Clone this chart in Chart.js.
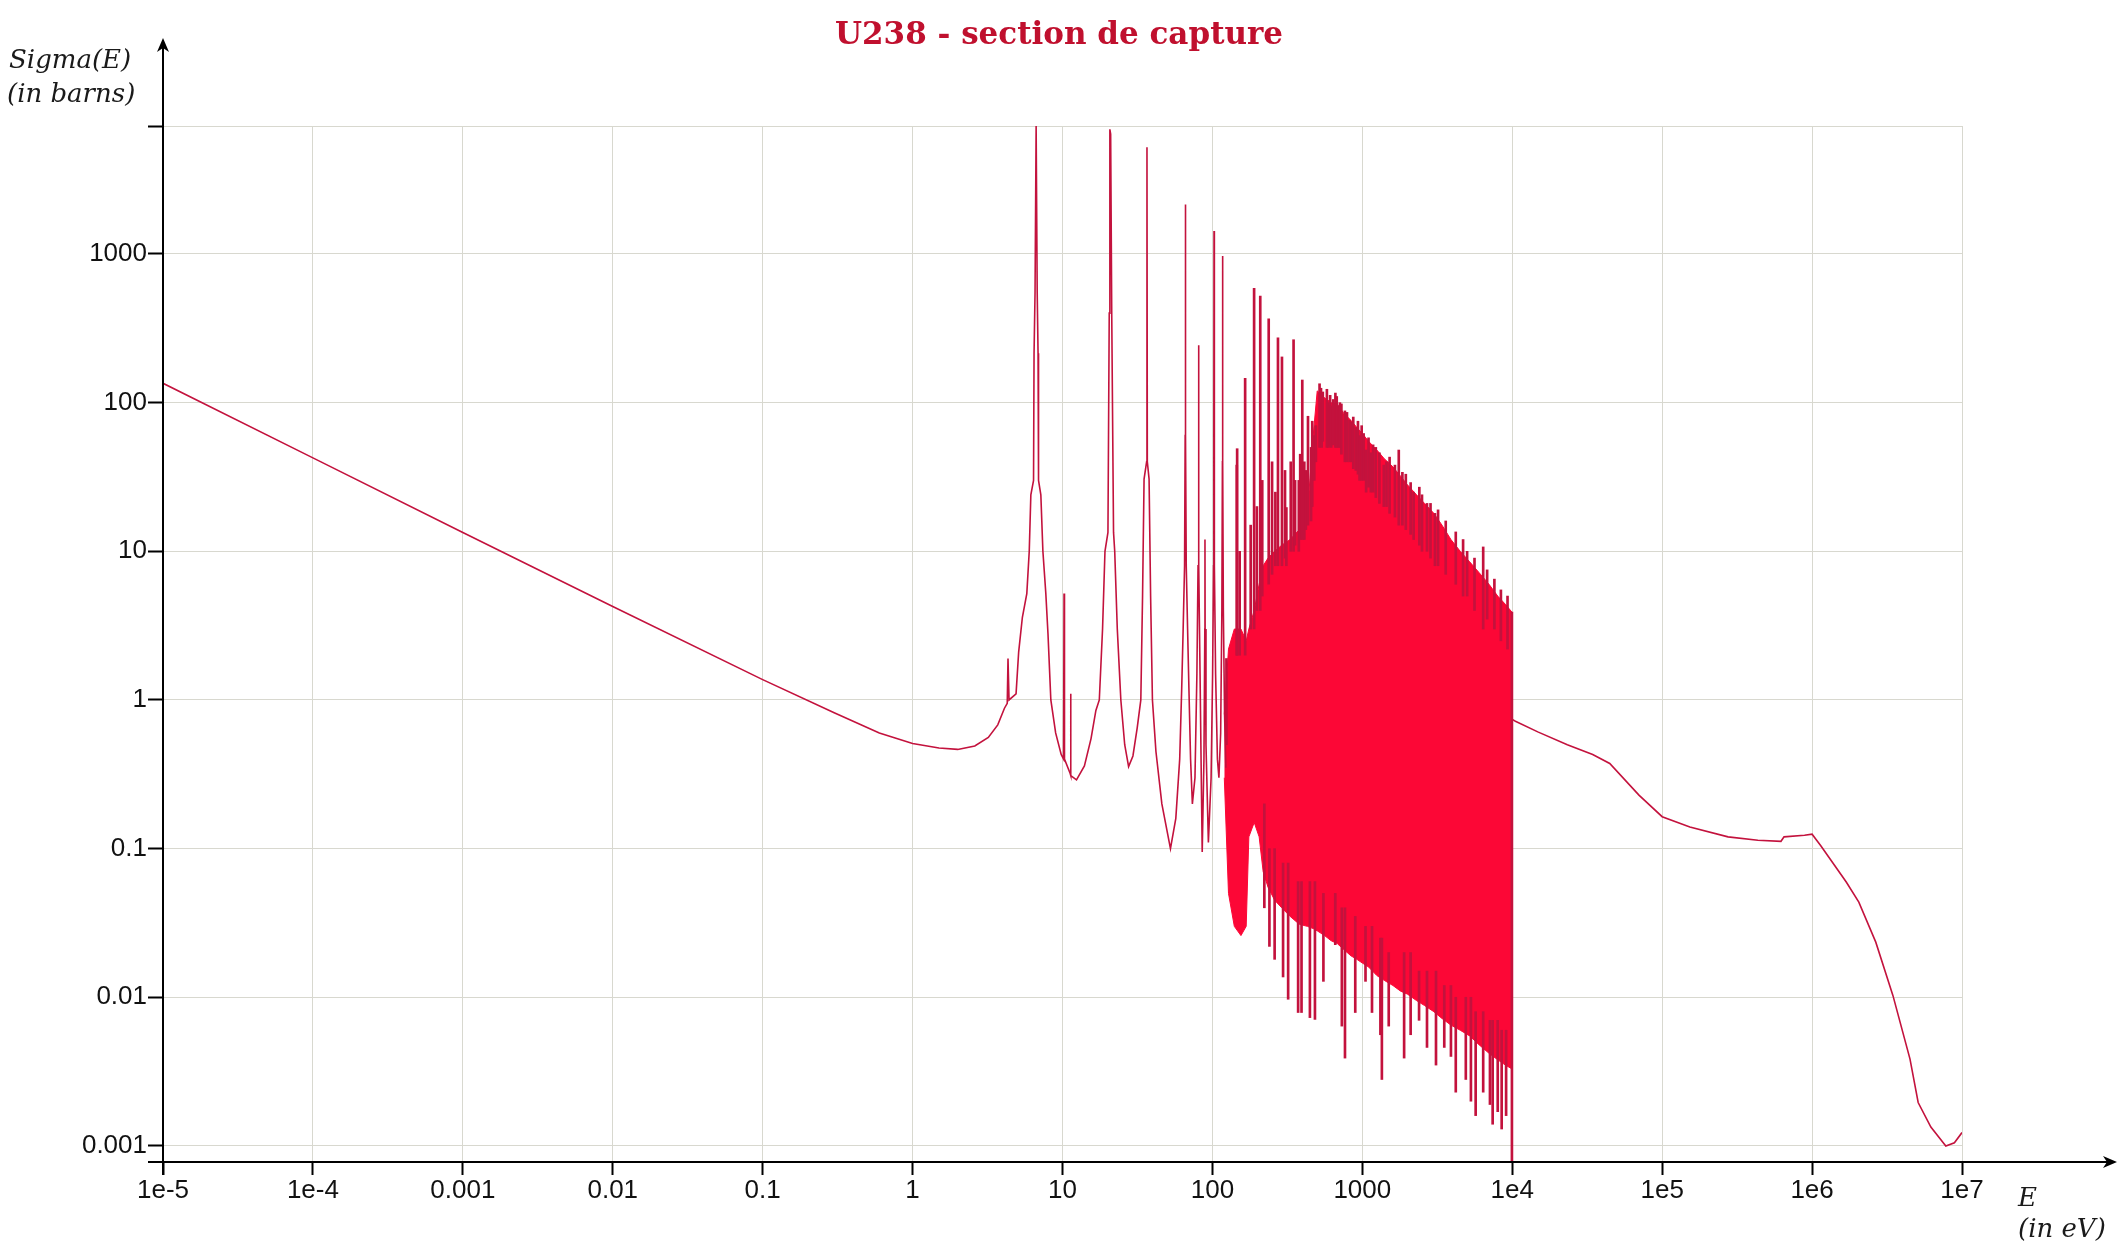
<!DOCTYPE html>
<html>
<head>
<meta charset="utf-8">
<title>U238 - section de capture</title>
<script src="https://cdn.jsdelivr.net/npm/chart.js@4.4.1/dist/chart.umd.min.js"></script>
<style>
  html, body { margin: 0; padding: 0; background: #fff; }
  canvas { display: block; }
</style>
</head>
<body>
<canvas id="capture" width="2118" height="1247"></canvas>
<script>
// domaine thermique, en 1/v (E en eV, sigma en barns)
const thermalE     = [1e-5, 1e-4, 1e-3, 0.01, 0.1, 0.3, 0.6, 1, 1.5, 2, 2.6, 3.2, 3.7, 4.1];
const thermalSigma = [135, 42.5, 13.4, 4.25, 1.37, 0.82, 0.6, 0.51, 0.475, 0.465, 0.49, 0.56, 0.68, 0.88];

// premieres resonances resolues (6.67, 20.9, 36.7, 66, 80.7, 102.5, 116.9 eV)
const resonanceE = [4.28, 4.33, 4.40, 4.9, 5.1, 5.4, 5.78, 6.0, 6.15, 6.41, 6.46, 6.56, 6.67, 6.78, 6.87, 6.92, 7.17, 7.4, 7.74, 8.0,
  8.36, 9.0, 9.8, 10.17, 10.24, 10.31, 11.25, 11.32, 11.39, 12.4, 14.0, 15.5, 16.7, 17.6, 18.5, 19.2, 20.1, 20.5, 20.7, 20.95,
  21.3, 21.9, 22.3, 23.2, 24.5, 26.0, 27.6, 29.5, 31.5, 33.3, 34.2, 35.0, 36.4, 36.6, 36.8, 37.8, 38.7, 39.8, 42, 46,
  52.5, 57, 60.5, 62.4, 63.8, 65.2, 65.8, 66.0, 66.3, 66.9, 68.3, 69.7, 71.5, 73.5, 76.5, 78.8, 80.2, 80.75, 81.3, 82.7,
  84.0, 85.5, 87.8, 89.0, 89.2, 89.4, 90.6, 94, 98, 100.3, 101.8, 102.2, 102.5, 102.8, 103.3, 105, 108, 110.5, 113.5, 115.6,
  116.6, 116.9, 117.2, 118.3, 120.5, 123];
const resonanceSigma = [0.95, 1.9, 1.0, 1.1, 2.1, 3.6, 5.2, 10, 24, 30, 215, 555, 7260, 555, 215, 30, 24, 10, 5.2, 2.8,
  1.0, 0.6, 0.43, 0.4, 5.2, 0.4, 0.32, 1.1, 0.31, 0.29, 0.36, 0.55, 0.85, 1.0, 3.0, 10, 13.4, 400, 6900, 6400,
  400, 13.4, 10, 3.0, 1.0, 0.5, 0.356, 0.42, 0.65, 1.0, 5, 30.6, 40, 5220, 40, 30.6, 5, 1.0, 0.45, 0.2,
  0.1, 0.16, 0.4, 1.2, 3, 8, 60, 2150, 60, 8, 3, 1.2, 0.4, 0.2, 0.3, 1.5, 8, 243, 8, 1.5,
  0.4, 0.095, 0.4, 3, 12, 3, 0.5, 0.11, 0.3, 1.5, 8, 60, 1425, 60, 8, 1.5, 0.4, 0.3, 0.6, 4,
  40, 970, 40, 4, 0.8, 0.35];

// zone dense 120 eV - 10 keV : bords haut et bas du paquet de resonances
const bandE = [120, 128, 140, 155, 168, 175, 190, 205, 218, 235, 260, 290, 330, 380, 430, 470, 500, 560, 620, 680,
  750, 840, 920, 1000, 1100, 1250, 1400, 1600, 1800, 2000, 2300, 2600, 3000, 3400, 3900, 4500, 5200, 6000, 7000, 8000,
  9000, 9950];
const bandTop = [0.8, 2.2, 3, 3, 2.5, 3, 4, 6, 8, 9, 10, 11, 12, 14, 18, 60, 120, 108, 100, 98,
  85, 76, 68, 62, 55, 48, 42, 37, 32, 28, 24, 21, 18, 15, 12, 10, 8.5, 7.2, 6, 5,
  4.4, 3.9];
const bandBottom = [0.3, 0.05, 0.03, 0.026, 0.03, 0.12, 0.15, 0.12, 0.07, 0.055, 0.045, 0.04, 0.035, 0.031, 0.03, 0.029, 0.028, 0.026, 0.024, 0.023,
  0.021, 0.019, 0.018, 0.017, 0.016, 0.014, 0.013, 0.012, 0.011, 0.0105, 0.0095, 0.0088, 0.008, 0.0072, 0.0065, 0.006, 0.0055, 0.0048, 0.0042, 0.0038,
  0.0035, 0.0033];

// pics qui depassent du paquet
const peakE    = [124, 145.3, 146.2, 152, 165.3, 180, 189.7, 198, 208.5, 215, 237.4, 250, 263, 273.7, 291.0, 305, 311.4, 333, 347.8, 356,
  376.9, 385, 397.6, 410.2, 420, 434.0, 455, 463.4, 478, 490, 518.4, 530, 535.4, 545, 580.2, 594.9, 610, 619.9, 640, 661.2,
  675, 693.1, 708.4, 725, 765.0, 790, 821.7, 851.0, 870, 905.0, 935, 958.0, 990, 1020, 1060, 1100, 1140, 1180, 1230, 1300,
  1390, 1450, 1520, 1650, 1750, 1850, 1950, 2100, 2200, 2400, 2500, 2700, 2850, 3050, 3200, 3600, 4200, 4700, 5000, 5600,
  6400, 6800, 7600, 8400, 9300];
const peakLow  = [0.5, 2, 2, 2, 2, 3, 3, 4, 4, 5, 6, 7, 8, 8, 8, 9, 8, 10, 10, 11,
  10, 12, 12, 12, 14, 15, 16, 20, 30, 40, 50, 55, 50, 55, 50, 50, 52, 50, 52, 50,
  50, 50, 50, 45, 40, 40, 40, 40, 36, 35, 33, 30, 30, 30, 25, 27, 25, 25, 23, 21,
  20, 20, 18, 17, 15, 15, 14, 13, 12, 11, 10, 10, 9, 8, 8, 7, 6, 5, 5, 4,
  3, 3.5, 3, 2.5, 2.2];
const peakHigh = [1.9, 38, 49, 10, 146, 15, 588, 20, 522, 30, 366, 40, 25, 273, 203, 35, 19.7, 40, 265, 30,
  30, 45, 142, 40, 35, 81, 50, 75, 60, 70, 134, 125, 100, 118, 123, 100, 112, 95, 105, 116,
  110, 95, 100, 98, 88, 86, 76, 74, 80, 68, 75, 60, 70, 62, 48, 58, 46, 52, 50, 46,
  38, 40, 43, 38, 48, 34, 33, 29, 25, 27, 24, 21, 21, 18, 19, 16, 13.5, 12, 10, 9,
  10.7, 7.5, 6.5, 5.5, 5];

// creux qui descendent sous le paquet
const dipE    = [222, 240, 260, 296, 320, 373, 393, 447, 483, 550, 660, 730, 766, 897, 1050, 1160, 1320, 1350, 1500, 1900,
  2100, 2390, 2700, 3100, 3520, 3900, 4200, 4900, 5300, 5700, 6400, 7100, 7400, 8000, 8500, 9100, 9950];
const dipLow  = [0.040, 0.022, 0.018, 0.0137, 0.0097, 0.0079, 0.0079, 0.0073, 0.0071, 0.0128, 0.0226, 0.0064, 0.0039, 0.0079, 0.0128, 0.0079, 0.0056, 0.0028, 0.0064, 0.0039,
  0.0056, 0.007, 0.0046, 0.0035, 0.0046, 0.004, 0.0023, 0.0028, 0.002, 0.0016, 0.0023, 0.0019, 0.0014, 0.0017, 0.0013, 0.0016, 0.00078];
const dipHigh = [0.2, 0.1, 0.1, 0.08, 0.08, 0.06, 0.06, 0.06, 0.06, 0.05, 0.05, 0.04, 0.04, 0.035, 0.03, 0.03, 0.025, 0.025, 0.02, 0.02,
  0.02, 0.015, 0.015, 0.015, 0.012, 0.012, 0.01, 0.01, 0.01, 0.008, 0.008, 0.007, 0.007, 0.007, 0.006, 0.006, 3.9];

// domaine rapide, 10 keV - 10 MeV
const fastE     = [1.0e4, 1.05e4, 1.48e4, 2.33e4, 3.44e4, 4.47e4, 7.0e4, 1.0e5, 1.53e5, 2.75e5, 4.35e5, 6.2e5, 6.5e5, 8.9e5, 1.0e6, 1.14e6, 1.69e6, 2.05e6, 2.66e6, 3.46e6,
  4.5e6, 5.1e6, 6.2e6, 7.8e6, 8.9e6, 1.0e7];
const fastSigma = [0.74, 0.72, 0.61, 0.5, 0.43, 0.374, 0.229, 0.164, 0.14, 0.12, 0.114, 0.112, 0.12, 0.123, 0.125, 0.105, 0.0596, 0.0437, 0.0235, 0.0103,
  0.00384, 0.00196, 0.00134, 0.001, 0.00105, 0.00123];

// axes
const xTickValues = [1e-5, 1e-4, 1e-3, 0.01, 0.1, 1, 10, 100, 1000, 1e4, 1e5, 1e6, 1e7];
const xTickLabels = ['1e-5', '1e-4', '0.001', '0.01', '0.1', '1', '10', '100', '1000', '1e4', '1e5', '1e6', '1e7'];
const yTickValues = [0.001, 0.01, 0.1, 1, 10, 100, 1000, 7260];
const yTickLabels = ['0.001', '0.01', '0.1', '1', '10', '100', '1000', ''];
const sigmaMin = 0.00078;
const sigmaMax = 7260;

const couleurCourbe = '#c3123d';
const couleurPaquet = '#fc0736';

function points(xs, ys) {
  return xs.map((x, i) => ({x: x, y: ys[i]}));
}
function traits(xs, lo, hi) {
  return xs.map((x, i) => ({x: x, y: [lo[i], hi[i]]}));
}

// fleches des axes et textes
const habillage = {
  id: 'habillage',
  afterDraw(chart) {
    const ctx = chart.ctx;
    const a = chart.chartArea;
    const w = chart.width;
    ctx.save();
    ctx.strokeStyle = '#000';
    ctx.fillStyle = '#000';
    ctx.lineWidth = 2;
    ctx.beginPath();
    ctx.moveTo(a.left - 15, a.bottom);
    ctx.lineTo(w - 6, a.bottom);
    ctx.moveTo(a.left, a.bottom + 13);
    ctx.lineTo(a.left, 45);
    ctx.stroke();

    ctx.beginPath();
    ctx.moveTo(w - 1, a.bottom);
    ctx.lineTo(w - 15, a.bottom - 6);
    ctx.lineTo(w - 11, a.bottom);
    ctx.lineTo(w - 15, a.bottom + 6);
    ctx.closePath();
    ctx.fill();

    ctx.beginPath();
    ctx.moveTo(a.left, 38);
    ctx.lineTo(a.left - 6, 52);
    ctx.lineTo(a.left, 48);
    ctx.lineTo(a.left + 6, 52);
    ctx.closePath();
    ctx.fill();

    ctx.textBaseline = 'alphabetic';
    ctx.textAlign = 'center';
    ctx.fillStyle = '#c0102e';
    ctx.font = 'bold 31px "DejaVu Serif"';
    ctx.fillText('U238 - section de capture', 1059, 44);

    ctx.textAlign = 'left';
    ctx.fillStyle = '#1a1a1a';
    ctx.font = 'italic 26px "DejaVu Serif"';
    ctx.fillText('Sigma(E)', 9, 68);
    ctx.fillText('(in barns)', 7, 102);
    ctx.fillText('E', 2018, 1206);
    ctx.fillText('(in eV)', 2018, 1237);
    ctx.restore();
  }
};

const ctx = document.getElementById('capture').getContext('2d');
const chart = new Chart(ctx, {
  type: 'line',
  data: {
    datasets: [
      {
        label: 'thermique et resonances',
        data: points(thermalE.concat(resonanceE), thermalSigma.concat(resonanceSigma)),
        borderColor: couleurCourbe,
        borderWidth: 1.6,
        pointRadius: 0,
        fill: false
      },
      {
        label: 'rapide',
        data: points(fastE, fastSigma),
        borderColor: couleurCourbe,
        borderWidth: 1.6,
        pointRadius: 0,
        fill: false
      },
      {
        type: 'bar',
        label: 'pics et creux',
        data: traits(peakE.concat(dipE), peakLow.concat(dipLow), peakHigh.concat(dipHigh)),
        backgroundColor: couleurCourbe,
        borderWidth: 0,
        barThickness: 2
      },
      {
        label: 'paquet haut',
        data: points(bandE, bandTop),
        borderColor: couleurPaquet,
        borderWidth: 1,
        backgroundColor: couleurPaquet,
        pointRadius: 0,
        fill: '+1'
      },
      {
        label: 'paquet bas',
        data: points(bandE, bandBottom),
        borderColor: couleurPaquet,
        borderWidth: 1,
        pointRadius: 0,
        fill: false
      }
    ]
  },
  options: {
    responsive: false,
    animation: false,
    events: [],
    layout: { padding: { top: 126, right: 156, left: 0, bottom: 0 } },
    plugins: {
      legend: { display: false },
      tooltip: { enabled: false },
      title: { display: false }
    },
    scales: {
      x: {
        type: 'logarithmic',
        min: 1e-5,
        max: 1e7,
        offset: false,
        bounds: 'data',
        border: { display: false },
        grid: { color: '#d8d8cf', lineWidth: 1, offset: false, tickColor: '#000', tickLength: 13, tickWidth: 2 },
        ticks: {
          autoSkip: false,
          maxRotation: 0,
          padding: 0,
          color: '#111',
          font: { family: 'Liberation Sans', size: 26 },
          callback: (v, i) => xTickLabels[i]
        },
        afterBuildTicks: (scale) => { scale.ticks = xTickValues.map(v => ({value: v})); },
        afterFit: (scale) => { scale.height = 85; }
      },
      y: {
        type: 'logarithmic',
        min: sigmaMin,
        max: sigmaMax,
        bounds: 'data',
        beginAtZero: false,
        border: { display: false },
        grid: { color: '#d8d8cf', lineWidth: 1, tickColor: '#000', tickLength: 15, tickWidth: 2 },
        ticks: {
          autoSkip: false,
          padding: 1,
          color: '#111',
          font: { family: 'Liberation Sans', size: 26 },
          callback: (v, i) => yTickLabels[i]
        },
        afterBuildTicks: (scale) => { scale.ticks = yTickValues.map(v => ({value: v})); },
        afterFit: (scale) => { scale.width = 163; }
      }
    }
  },
  plugins: [habillage]
});
</script>
</body>
</html>
